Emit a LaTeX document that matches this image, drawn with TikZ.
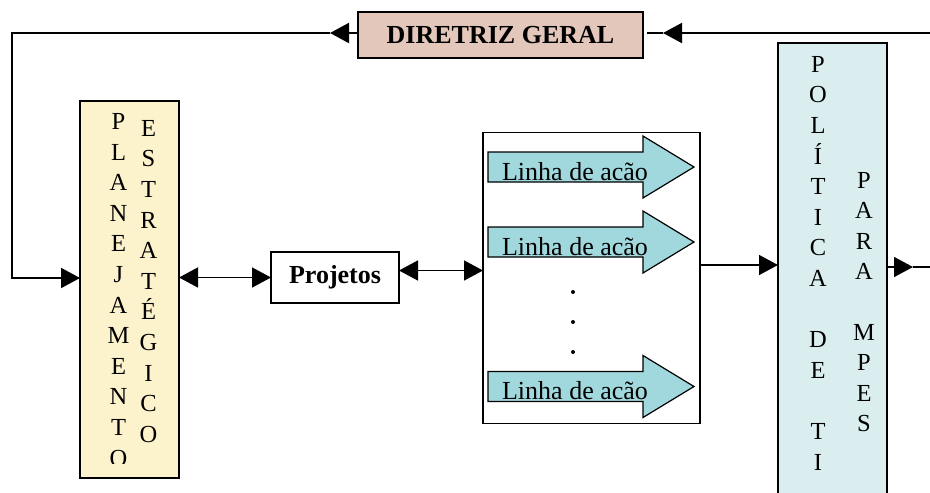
\documentclass[tikz,border=0pt]{standalone}
\usepackage{fontspec}
\setmainfont{Liberation Serif}
\usetikzlibrary{arrows.meta,calc}

\definecolor{dirfill}{RGB}{227,199,186}
\definecolor{planfill}{RGB}{252,242,204}
\definecolor{acaofill}{RGB}{160,216,221}
\definecolor{polfill}{RGB}{218,238,240}

% draws one "Linha de acao" block arrow centred on height #1, text node named #2
\newcommand\linhaacao[2]{%
  \draw[line width=1.2pt, fill=acaofill]
    (488,#1-15) -- (643,#1-15) -- (643,#1-31) -- (694,#1) --
    (643,#1+31) -- (643,#1+15) -- (488,#1+15) -- cycle;
  \node[anchor=base, inner sep=0pt, font=\fontsize{26}{30}\selectfont]
    (#2) at (575,#1+13) {Linha de acão};
}

\begin{document}
\begin{tikzpicture}[x=1pt,y=-1pt,
  box/.style={draw=black, line width=1.5pt, inner sep=0pt, outer sep=0pt},
  conn/.style={line width=1.5pt},
  topconn/.style={line width=2pt},
  tip/.style={-{Triangle[length=19pt,width=20pt]}},
  twotips/.style={{Triangle[length=19pt,width=20pt]}-{Triangle[length=19pt,width=20pt]}},
  letter/.style={anchor=base, inner sep=0pt, font=\fontsize{24.5}{28}\selectfont},
]
\clip (0,0) rectangle (930,493);
\fill[white] (0,0) rectangle (930,493);

% ---- boxes ----
\node[box, fill=dirfill, minimum width=285pt, minimum height=46pt,
      font=\bfseries\fontsize{26}{30}\selectfont] (dir) at (500.5,35) {DIRETRIZ GERAL};
\node[box, fill=planfill, minimum width=99pt, minimum height=377pt] (plan) at (129.5,289.5) {};
\node[box, fill=white, minimum width=128pt, minimum height=51pt,
      font=\bfseries\fontsize{26}{30}\selectfont] (proj) at (335,277.5) {Projetos};
\node[box, fill=white, minimum width=217pt, minimum height=291pt] (big) at (591.5,278) {};
\node[box, fill=polfill, minimum width=109pt, minimum height=470pt] (pol) at (832.5,278) {};

% ---- vertical lettering of the planning box (text area ends above the frame) ----
\begin{scope}
  \clip ([xshift=1pt,yshift=-1pt]plan.north west) rectangle ([xshift=-1pt,yshift=14.5pt]plan.south east);
  \foreach \l [count=\i from 0] in {P,L,A,N,E,J,A,M,E,N,T,O}
    \node[letter] (pl\i) at (118.5,129.5+30.6*\i) {\l};
  \foreach \l [count=\i from 0] in {E,S,T,R,A,T,É,G,I,C,O}
    \node[letter] (es\i) at (148.5,136.3+30.6*\i) {\l};
\end{scope}

% ---- vertical lettering of the policy box ----
\foreach \l [count=\i from 0] in {P,O,L,Í,T,I,C,A,{},D,E,{},T,I}
  \node[letter] (po\i) at (818,72.3+30.6*\i) {\l};
\foreach \l [count=\i from 0] in {P,A,R,A,{},M,P,E,S}
  \node[letter] (pa\i) at (864,188.3+30.4*\i) {\l};

% ---- lines of action ----
\linhaacao{167}{la1}
\linhaacao{242}{la2}
\linhaacao{386.5}{la3}
\fill (573,292) circle (2pt) (573,322) circle (2pt) (573,352) circle (2pt);

% ---- connectors ----
\coordinate (tr) at (930,33);
\coordinate (tl) at (12,33);
\coordinate (bl) at (12,278);
\coordinate (rr) at (930,267);

\draw[topconn, tip] (tr) -- ($(dir.east |- tr)+(20,0)$);
\draw[topconn] ($(dir.east |- tr)+(20,0)$) -- ($(dir.east |- tr)+(4,0)$);

\draw[topconn, tip] (dir.west |- tr) -- ($(dir.west |- tr)+(-28,0)$);
\draw[topconn, tip] ($(dir.west |- tr)+(-28,0)$) -- (tl) -- (bl) -- (plan.west |- bl);

\draw[conn, twotips] (plan.east |- proj.center) -- (proj.west);
\draw[conn, twotips] ([yshift=7pt]proj.east) -- ([yshift=7pt]proj.east -| big.west);
\draw[conn, tip] ([yshift=13pt]big.east) -- ([yshift=13pt]big.east -| pol.west);

\draw[conn, tip] (pol.east |- rr) -- ($(pol.east |- rr)+(26,0)$);
\draw[conn] ($(pol.east |- rr)+(26,0)$) -- (rr);
\end{tikzpicture}
\end{document}
